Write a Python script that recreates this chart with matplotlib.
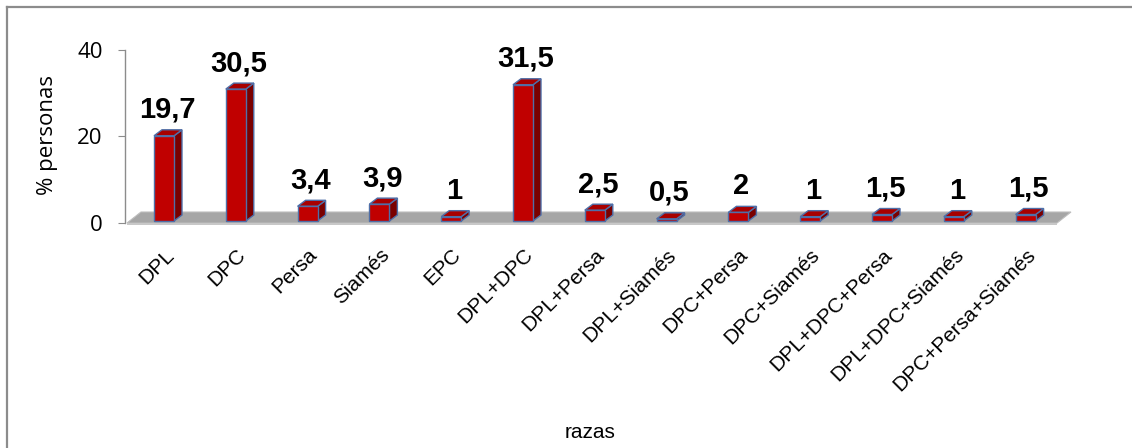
import matplotlib
matplotlib.use("Agg")
import matplotlib.pyplot as plt
from matplotlib.patches import Polygon
from matplotlib.lines import Line2D

categories = ["DPL", "DPC", "Persa", "Siamés", "EPC", "DPL+DPC", "DPL+Persa",
              "DPL+Siamés", "DPC+Persa", "DPC+Siamés", "DPL+DPC+Persa",
              "DPL+DPC+Siamés", "DPC+Persa+Siamés"]
values = [19.7, 30.5, 3.4, 3.9, 1, 31.5, 2.5, 0.5, 2, 1, 1.5, 1, 1.5]
y_ticks = [0, 20, 40]
x_title = "razas"
y_title = "% personas"

W, H, DPI = 1132, 448, 100
fig = plt.figure(figsize=(W / DPI, H / DPI), dpi=DPI)
fig.patch.set_facecolor("white")

# axes box in pixels (left, right, top, bottom)
ax_l, ax_r, ax_t, ax_b = 125, 1072, 50, 223
ax = fig.add_axes([ax_l / W, 1 - ax_b / H, (ax_r - ax_l) / W, (ax_b - ax_t) / H])
xmin, xmax = -0.543, 12.646
ymax = 40
ax.set_xlim(xmin, xmax)
ax.set_ylim(0, ymax)
ax.patch.set_alpha(0)

px_x = (ax_r - ax_l) / (xmax - xmin)
px_y = (ax_b - ax_t) / ymax


def dx(p):
    return p / px_x


def dy(p):
    return p / px_y


# 3-D floor
depth_x, depth_y = dx(14), dy(11)
fl_l, fl_r = xmin + dx(2), xmin + dx(932)
floor = Polygon([(fl_l, 0), (fl_r, 0), (fl_r + depth_x, depth_y), (fl_l + depth_x, depth_y)],
                closed=True, facecolor="#a6a6a6", edgecolor="#bdbdbd", linewidth=0.8,
                clip_on=False, zorder=1)
ax.add_patch(floor)
slab = Polygon([(fl_l, 0), (fl_r, 0), (fl_r, -dy(2)), (fl_l, -dy(2))],
               closed=True, facecolor="#c8c8c8", edgecolor="none", clip_on=False, zorder=1)
ax.add_patch(slab)

# 3-D bars
bw = dx(20)
lift = dy(2)
bdx, bdy = dx(8), dy(6)
edge = "#4f6fa8"
front_c, side_c, top_c = "#c00000", "#7a0000", "#a80000"
for i, v in enumerate(values):
    x0, x1 = i - bw / 2, i + bw / 2
    y0, y1 = lift, lift + v
    side = Polygon([(x1, y0), (x1 + bdx, y0 + bdy), (x1 + bdx, y1 + bdy), (x1, y1)],
                   closed=True, facecolor=side_c, edgecolor=edge, linewidth=1.0,
                   clip_on=False, zorder=3)
    top = Polygon([(x0, y1), (x1, y1), (x1 + bdx, y1 + bdy), (x0 + bdx, y1 + bdy)],
                  closed=True, facecolor=top_c, edgecolor=edge, linewidth=1.0,
                  clip_on=False, zorder=3)
    ax.add_patch(side)
    ax.add_patch(top)
    ax.bar(i, v, width=bw, bottom=lift, color=front_c, edgecolor=edge, linewidth=1.0,
           clip_on=False, zorder=3)
    lbl = f"{v:g}".replace(".", ",")
    ax.annotate(lbl, (i + dx(3), y1), xytext=(0, 13), textcoords="offset points",
                ha="center", va="baseline", fontsize=21, fontweight="bold",
                family="Liberation Sans", color="black", annotation_clip=False)

# axes styling
for s in ["top", "right", "bottom"]:
    ax.spines[s].set_visible(False)
ax.spines["left"].set_color("#8c8c8c")
ax.spines["left"].set_linewidth(1.0)
ax.set_yticks(y_ticks)
ax.set_yticklabels([str(t) for t in y_ticks], family="Open Sans", fontsize=16)
ax.tick_params(axis="y", direction="out", length=5, color="#8c8c8c", pad=11)
ax.set_xticks(range(len(categories)))
ax.set_xticklabels(categories, rotation=45, ha="right", rotation_mode="anchor",
                   family="Liberation Sans", fontsize=15)
ax.tick_params(axis="x", length=0, pad=16)

ax.set_ylabel(y_title, family="Open Sans", fontsize=16)
ax.yaxis.set_label_coords((58 - ax_l) / (ax_r - ax_l), 0.51)
fig.text(590 / W, 1 - 432 / H, x_title, ha="center", va="center",
         family="Liberation Sans", fontsize=15)

# outer frame edges
fig.add_artist(Line2D([7 / W, 7 / W], [0, 1 - 7 / H], color="#8c8c8c", linewidth=1.6,
                      transform=fig.transFigure))
fig.add_artist(Line2D([7 / W, 1], [1 - 7 / H, 1 - 7 / H], color="#8c8c8c", linewidth=1.6,
                      transform=fig.transFigure))

fig.savefig("out.png", dpi=DPI)
